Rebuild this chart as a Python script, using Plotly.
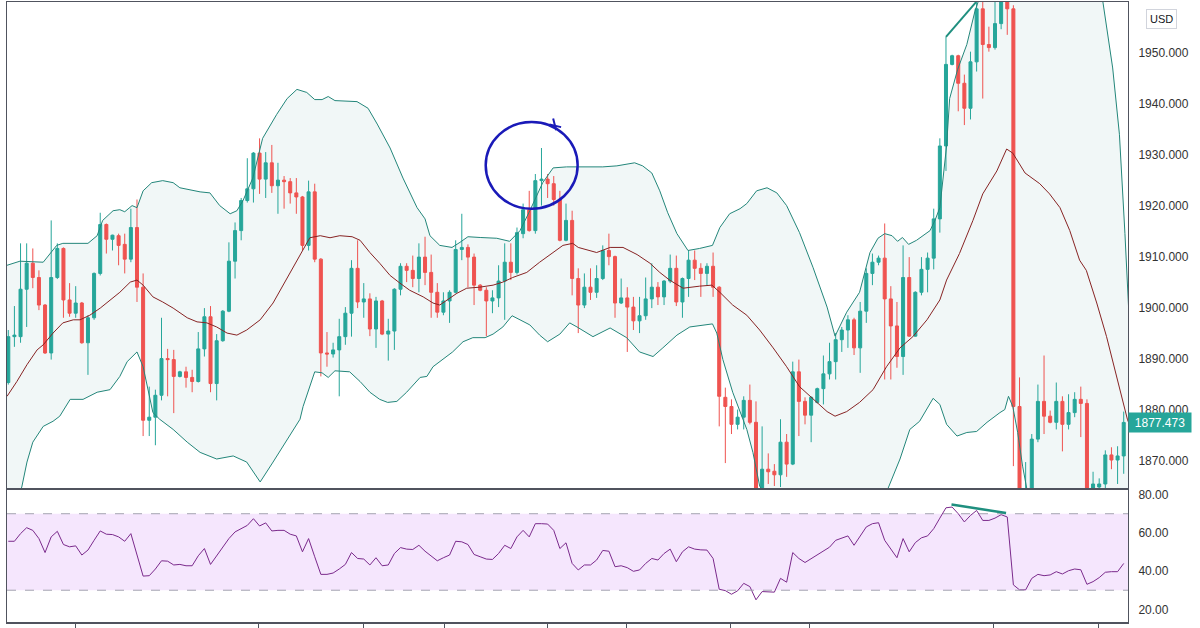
import plotly.graph_objects as go

# ---------------- data ----------------
opens = [1885.3, 1894.3, 1894.3, 1903.6, 1908.7, 1905.9, 1900.5, 1891.1, 1905.9, 1911.6,
         1901.5, 1898.9, 1900.9, 1893.1, 1898.0, 1906.7, 1916.3, 1913.4, 1914.1, 1912.4,
         1909.5, 1915.7, 1904.0, 1877.9, 1878.5, 1882.8, 1890.0, 1889.8, 1886.5, 1887.4,
         1886.3, 1885.5, 1891.9, 1898.2, 1885.1, 1893.5, 1899.3, 1909.1, 1915.1, 1921.0,
         1923.3, 1930.3, 1925.2, 1928.4, 1923.9, 1925.0, 1924.7, 1922.5, 1921.7, 1912.2,
         1922.7, 1909.5, 1891.1, 1890.9, 1891.7, 1894.3, 1898.9, 1907.7, 1901.1, 1901.7,
         1895.8, 1901.3, 1894.8, 1895.4, 1903.6, 1908.1, 1907.3, 1905.7, 1909.9, 1906.9,
         1903.0, 1899.1, 1901.3, 1903.0, 1911.4, 1911.8, 1909.9, 1904.4, 1903.4, 1901.3,
         1901.9, 1905.2, 1908.9, 1906.9, 1914.5, 1919.2, 1915.1, 1924.9, 1925.2, 1924.3,
         1921.2, 1913.2, 1917.1, 1905.7, 1900.5, 1904.0, 1903.0, 1905.7, 1911.2, 1910.0,
         1900.9, 1901.9, 1900.1, 1897.4, 1898.4, 1901.7, 1904.0, 1902.1, 1905.2, 1907.7,
         1901.1, 1905.7, 1909.3, 1907.7, 1906.7, 1908.1, 1904.0, 1882.4, 1880.6, 1877.1,
         1878.5, 1881.8, 1877.5, 1862.5, 1868.3, 1867.9, 1867.2, 1873.6, 1869.3, 1887.4,
         1881.6, 1878.9, 1881.4, 1884.1, 1887.0, 1889.4, 1893.7, 1895.6, 1897.6, 1892.1,
         1899.3, 1906.7, 1908.9, 1909.7, 1901.7, 1896.4, 1890.4, 1905.9, 1894.4, 1903.0,
         1907.5, 1909.7, 1917.4, 1931.7, 1947.7, 1949.4, 1944.0, 1939.1, 1948.2, 1958.6,
         1951.6, 1951.0, 1955.7, 1960.5, 1958.6, 1880.6, 1861.0, 1863.5, 1874.2, 1881.6,
         1878.7, 1877.5, 1881.6, 1877.1, 1879.4, 1882.0, 1881.2, 1862.5, 1864.8, 1865.4,
         1871.1, 1870.1, 1870.9]
highs = [1895.6, 1900.3, 1912.6, 1912.6, 1911.6, 1907.3, 1900.7, 1917.1, 1912.6, 1911.8,
         1904.8, 1904.2, 1901.1, 1898.5, 1906.9, 1918.6, 1916.5, 1914.3, 1914.5, 1914.5,
         1919.4, 1921.2, 1906.7, 1884.5, 1883.9, 1898.0, 1891.9, 1891.7, 1887.6, 1888.4,
         1887.8, 1895.2, 1899.9, 1900.3, 1894.8, 1899.5, 1912.8, 1916.7, 1921.5, 1929.3,
         1930.5, 1933.2, 1930.5, 1931.9, 1928.4, 1925.8, 1925.4, 1925.4, 1921.9, 1924.9,
         1924.3, 1909.7, 1895.2, 1893.1, 1897.8, 1900.1, 1909.3, 1913.2, 1904.8, 1902.8,
         1902.1, 1901.5, 1897.8, 1903.8, 1908.7, 1908.7, 1910.2, 1912.6, 1913.9, 1910.4,
         1904.8, 1903.0, 1903.4, 1913.2, 1918.4, 1912.4, 1910.6, 1904.6, 1904.0, 1903.4,
         1908.3, 1912.6, 1912.6, 1915.7, 1920.4, 1922.9, 1926.2, 1931.3, 1926.2, 1925.8,
         1922.9, 1920.4, 1919.0, 1907.7, 1906.7, 1907.7, 1908.3, 1912.2, 1914.5, 1910.2,
         1905.7, 1904.0, 1902.1, 1902.1, 1905.9, 1908.7, 1905.0, 1905.4, 1910.4, 1910.2,
         1905.9, 1911.2, 1911.2, 1908.7, 1908.7, 1910.8, 1904.2, 1884.3, 1882.0, 1880.0,
         1882.6, 1884.9, 1881.6, 1876.7, 1871.4, 1869.3, 1878.1, 1875.2, 1889.4, 1889.8,
         1882.4, 1882.6, 1884.3, 1890.6, 1893.1, 1895.0, 1896.2, 1898.5, 1898.0, 1901.1,
         1907.7, 1910.6, 1910.2, 1916.5, 1904.2, 1901.1, 1912.2, 1909.9, 1903.2, 1909.9,
         1910.8, 1919.4, 1933.2, 1953.1, 1949.6, 1949.6, 1945.7, 1950.2, 1960.5, 1960.2,
         1955.1, 1960.0, 1962.0, 1961.5, 1959.3, 1886.3, 1869.7, 1875.2, 1884.9, 1890.6,
         1879.8, 1885.3, 1882.6, 1883.0, 1883.4, 1884.5, 1882.0, 1867.8, 1866.5, 1872.0,
         1872.6, 1872.8, 1879.6]
lows = [1884.9, 1892.3, 1893.1, 1896.2, 1903.8, 1899.5, 1890.9, 1889.8, 1905.6, 1898.0,
        1898.2, 1898.0, 1892.9, 1886.8, 1897.6, 1906.3, 1910.6, 1911.2, 1908.3, 1906.7,
        1908.9, 1901.1, 1874.8, 1874.8, 1873.0, 1881.8, 1882.6, 1879.3, 1886.3, 1884.3,
        1883.4, 1885.3, 1890.4, 1883.4, 1881.8, 1893.3, 1899.1, 1905.7, 1913.2, 1920.6,
        1920.6, 1922.3, 1921.5, 1922.5, 1918.4, 1919.4, 1920.4, 1918.4, 1911.2, 1911.2,
        1908.9, 1886.5, 1888.4, 1890.2, 1882.6, 1892.7, 1894.3, 1899.9, 1898.0, 1894.4,
        1892.1, 1894.6, 1889.6, 1891.7, 1902.4, 1905.0, 1904.0, 1903.0, 1904.4, 1898.0,
        1898.0, 1898.5, 1897.0, 1902.8, 1909.3, 1904.0, 1900.5, 1903.2, 1894.4, 1898.9,
        1900.1, 1897.6, 1905.4, 1906.5, 1913.6, 1914.9, 1914.5, 1920.0, 1921.5, 1920.0,
        1913.0, 1913.0, 1902.4, 1895.0, 1899.9, 1901.5, 1901.9, 1905.4, 1908.3, 1898.0,
        1900.7, 1891.3, 1895.6, 1895.0, 1897.6, 1899.9, 1900.5, 1900.5, 1904.8, 1900.3,
        1898.0, 1902.1, 1905.4, 1902.1, 1904.4, 1902.1, 1876.7, 1869.5, 1875.2, 1876.1,
        1876.1, 1877.1, 1859.0, 1861.5, 1865.4, 1865.0, 1864.8, 1866.8, 1869.1, 1874.8,
        1877.1, 1873.6, 1881.2, 1881.0, 1885.9, 1885.9, 1891.3, 1892.1, 1890.7, 1887.2,
        1897.0, 1904.4, 1908.3, 1885.9, 1885.9, 1888.2, 1886.8, 1894.3, 1894.3, 1902.4,
        1903.0, 1907.5, 1914.7, 1926.8, 1947.5, 1938.5, 1935.8, 1936.9, 1946.3, 1941.0,
        1950.2, 1950.6, 1954.6, 1953.5, 1868.9, 1859.0, 1858.5, 1861.0, 1873.6, 1875.2,
        1877.3, 1876.1, 1871.8, 1876.1, 1878.5, 1874.6, 1860.0, 1860.5, 1863.0, 1864.4,
        1868.3, 1865.4, 1867.4]
closes = [1894.3, 1894.6, 1903.6, 1908.7, 1905.9, 1900.5, 1891.1, 1905.9, 1911.6, 1901.5,
          1898.9, 1900.9, 1893.1, 1898.0, 1906.7, 1916.3, 1913.4, 1914.2, 1912.2, 1909.5,
          1915.7, 1904.0, 1877.9, 1878.5, 1882.8, 1890.0, 1889.8, 1886.5, 1887.4, 1886.3,
          1885.5, 1891.9, 1898.2, 1885.1, 1893.5, 1899.3, 1909.1, 1915.1, 1921.0, 1923.3,
          1930.3, 1925.2, 1928.4, 1923.9, 1925.0, 1924.7, 1922.5, 1921.7, 1912.2, 1922.7,
          1909.5, 1891.1, 1890.9, 1891.7, 1894.3, 1898.9, 1907.7, 1901.1, 1901.7, 1895.8,
          1901.3, 1894.8, 1895.4, 1903.6, 1908.1, 1907.3, 1905.7, 1909.9, 1906.9, 1903.0,
          1899.1, 1901.3, 1903.0, 1911.4, 1911.8, 1909.9, 1904.4, 1903.4, 1901.3, 1901.9,
          1905.2, 1908.9, 1906.9, 1914.7, 1919.2, 1915.1, 1924.9, 1925.2, 1924.3, 1921.2,
          1913.2, 1917.1, 1905.7, 1900.5, 1904.0, 1903.0, 1905.7, 1911.2, 1910.0, 1900.9,
          1901.9, 1900.1, 1897.4, 1898.4, 1901.7, 1904.0, 1902.1, 1905.2, 1907.7, 1901.1,
          1905.7, 1909.3, 1907.7, 1906.7, 1908.1, 1904.0, 1882.6, 1880.6, 1877.1, 1878.5,
          1881.8, 1877.5, 1862.0, 1868.3, 1867.8, 1867.2, 1873.6, 1869.3, 1887.4, 1881.6,
          1878.9, 1882.4, 1884.1, 1887.0, 1889.4, 1893.7, 1895.6, 1897.6, 1892.1, 1899.3,
          1906.7, 1908.9, 1909.7, 1901.7, 1896.4, 1890.4, 1905.9, 1894.4, 1903.0, 1907.5,
          1909.7, 1917.4, 1931.7, 1947.7, 1949.4, 1944.0, 1939.1, 1948.2, 1958.6, 1951.6,
          1951.0, 1955.7, 1960.5, 1958.6, 1880.6, 1862.0, 1864.0, 1874.2, 1881.6, 1878.7,
          1877.5, 1881.6, 1877.1, 1879.4, 1882.0, 1881.2, 1862.5, 1865.4, 1865.4, 1871.1,
          1870.1, 1870.9, 1877.473]
bar_index = list(range(len(closes)))

rsi = [55.6, 55.6, 59.6, 62.7, 61.3, 57.0, 49.7, 57.9, 60.8, 53.9,
       52.7, 53.2, 48.4, 51.0, 56.1, 61.0, 59.3, 59.1, 57.9, 55.6,
       59.6, 48.4, 37.4, 37.6, 41.1, 45.4, 45.2, 43.2, 43.5, 42.8,
       42.8, 48.0, 51.8, 43.5, 48.0, 52.2, 57.0, 60.5, 62.4, 63.9,
       67.4, 63.6, 65.2, 61.0, 61.3, 61.3, 59.3, 58.4, 50.1, 57.0,
       47.5, 38.3, 38.3, 39.0, 41.1, 43.5, 49.7, 46.6, 46.3, 43.2,
       47.0, 42.8, 43.2, 49.2, 52.3, 51.5, 51.3, 53.5, 50.4, 48.0,
       45.4, 47.0, 48.4, 55.6, 55.3, 53.9, 48.7, 47.5, 46.3, 46.1,
       49.2, 53.5, 51.8, 57.9, 61.3, 57.9, 64.8, 64.8, 64.6, 61.3,
       51.8, 54.8, 44.0, 40.6, 43.2, 43.2, 45.8, 50.8, 50.4, 42.3,
       42.8, 41.8, 39.9, 40.6, 44.0, 46.6, 45.8, 49.2, 51.5, 44.9,
       50.1, 52.7, 51.5, 51.1, 51.0, 46.6, 30.5, 29.8, 27.9, 29.7,
       33.6, 31.9, 25.0, 29.3, 29.3, 29.0, 36.2, 34.2, 49.7, 46.6,
       44.5, 46.6, 48.4, 50.4, 52.5, 56.1, 57.4, 58.4, 53.5, 58.4,
       63.1, 64.8, 65.3, 56.1, 51.8, 47.0, 57.0, 50.1, 54.9, 57.4,
       58.4, 62.2, 67.7, 73.1, 73.5, 70.0, 65.7, 69.1, 71.7, 66.5,
       66.5, 67.7, 69.5, 68.3, 32.8, 30.2, 30.2, 36.2, 38.3, 37.6,
       38.0, 39.7, 38.5, 40.2, 41.1, 40.7, 33.1, 34.5, 36.6, 39.4,
       39.7, 39.7, 44.0]

bb_upper_idx = [-0.2, 1.9, 5.7, 6.8, 7.9, 8.9, 13.0, 14.5, 15.4, 17.1, 18.2, 19.0, 20.2, 21.0,
                22.0, 23.4, 25.2, 26.9, 28.0, 31.3, 32.9, 34.5, 36.2, 37.3, 38.3, 39.9, 41.5,
                43.8, 45.5, 47.1, 48.7, 50.0, 51.2, 52.2, 53.3, 56.9, 58.7, 60.2, 62.3, 64.4,
                66.7, 68.0, 68.8, 70.4, 72.4, 73.7, 75.0, 77.0, 79.7, 81.8, 83.5, 85.1, 87.2,
                88.9, 91.1, 97.0, 99.3, 102.2, 103.5, 105.0, 106.3, 107.6, 109.1, 110.9, 112.8,
                114.9, 116.1, 117.7, 119.4, 120.5, 122.1, 123.8, 125.4, 127.0, 129.1, 131.3,
                133.6, 134.9, 136.8, 138.9, 140.6, 141.9, 143.0, 144.2, 145.1, 145.9, 146.9,
                148.2, 149.2, 150.4, 151.2, 152.0, 153.1, 153.6, 154.9, 156.4, 157.7, 159,
                161, 163, 166, 170, 174, 177, 178.6, 180.2, 181.3, 182.2, 183]
bb_upper = [1908.3, 1909.1, 1908.9, 1910.6, 1912.2, 1912.6, 1912.6, 1914.1, 1917.1, 1919.0,
            1919.2, 1918.8, 1920.0, 1919.6, 1922.9, 1924.5, 1924.9, 1924.5, 1923.5, 1922.7,
            1922.5, 1920.0, 1918.4, 1919.0, 1921.0, 1925.4, 1933.2, 1937.9, 1941.0, 1942.8,
            1942.2, 1940.8, 1940.8, 1941.4, 1940.6, 1940.4, 1939.1, 1936.0, 1931.3, 1925.4,
            1919.6, 1917.4, 1914.1, 1912.2, 1911.8, 1912.8, 1913.9, 1913.75, 1913.6, 1913.0,
            1915.1, 1919.0, 1924.5, 1927.4, 1927.6, 1927.6, 1927.8, 1928.4, 1927.8, 1926.4,
            1922.9, 1918.6, 1914.5, 1911.2, 1911.6, 1912.2, 1915.7, 1918.4, 1919.4, 1920.4,
            1922.9, 1923.5, 1922.5, 1920.0, 1914.7, 1907.9, 1900.1, 1894.4, 1899.1, 1903.0,
            1910.8, 1913.6, 1914.5, 1914.1, 1913.0, 1913.75, 1912.4, 1913.2, 1914.1, 1915.1,
            1917.1, 1919.6, 1931.7, 1941.0, 1946.7, 1951.6, 1958.0, 1963, 1970, 1978,
            1988, 1990, 1984, 1972, 1960, 1947, 1934, 1914.5, 1895]

bb_mid_idx = [-0.2, 1.4, 3.05, 4.7, 5.7, 7.3, 8.9, 10.6, 11.7, 13.3, 15.0, 16.6, 18.2, 19.9,
              21.0, 22.0, 23.6, 25.2, 26.9, 29.2, 30.8, 32.4, 34.0, 35.7, 37.3, 38.9, 41.1,
              43.2, 45.5, 47.6, 49.2, 50.9, 52.5, 54.1, 56.1, 57.4, 59.0, 60.6, 62.3, 63.9,
              65.5, 67.7, 69.3, 70.4, 71.6, 73.2, 74.8, 76.9, 79.1, 80.7, 82.3, 84.6, 86.7,
              88.9, 90.5, 92.1, 93.0, 96.0, 98.2, 100.3, 102.6, 104.7, 106.3, 107.9, 110.1,
              112.8, 114.8, 116.1, 118.2, 120.5, 122.6, 124.8, 127.0, 129.1, 131.9, 133.6,
              134.9, 136.8, 138.9, 141.1, 143.3, 145.5, 147.6, 149.9, 152.0, 153.1, 155.2,
              157.4, 159.0, 161.3, 162.9, 163.9, 165.9, 168.3, 169.9, 171.6, 173.2, 174.8,
              175.9, 177.6, 179.2, 180.9, 182.6, 183.0]
bb_mid = [1882.6, 1885.5, 1888.8, 1891.7, 1892.7, 1895.0, 1897.0, 1897.6, 1897.6, 1898.5,
          1899.9, 1901.5, 1903.0, 1905.0, 1905.4, 1904.4, 1902.1, 1901.1, 1899.9, 1898.0,
          1897.2, 1897.0, 1896.2, 1895.0, 1894.6, 1895.6, 1897.6, 1900.9, 1905.9, 1910.2,
          1913.7, 1914.1, 1913.7, 1914.1, 1913.9, 1913.2, 1910.8, 1908.7, 1906.3, 1904.8,
          1903.4, 1902.1, 1900.9, 1900.5, 1901.5, 1902.8, 1903.8, 1904.0, 1904.4, 1905.0,
          1905.9, 1906.9, 1908.9, 1910.8, 1912.2, 1912.6, 1911.8, 1910.8, 1911.8, 1911.8,
          1910.4, 1908.7, 1906.9, 1905.4, 1903.8, 1904.2, 1904.4, 1903.0, 1900.5, 1898.5,
          1895.6, 1892.1, 1888.4, 1884.5, 1881.4, 1879.6, 1878.7, 1879.6, 1881.4, 1883.9,
          1888.4, 1892.1, 1894.3, 1897.6, 1901.5, 1905.4, 1910.6, 1917.1, 1922.3, 1926.8,
          1931.1, 1930.3, 1926.4, 1924.3, 1922.3, 1919.6, 1915.1, 1909.3, 1907.3, 1900.9,
          1894.3, 1885.9, 1878.1, 1876.8]

bb_lower_idx = [-0.2, 2.2, 3.05, 4.0, 5.7, 7.3, 8.4, 10.1, 12.2, 14.5, 16.6, 18.2, 19.4, 21.0,
                22.0, 23.6, 24.7, 26.9, 29.2, 31.3, 34.0, 36.7, 38.9, 41.1, 43.2, 45.5, 47.6,
                48.1, 50.0, 51.2, 52.2, 53.3, 55.7, 57.4, 59.0, 60.6, 61.9, 63.4, 65.0, 67.2,
                68.3, 69.3, 70.9, 72.5, 74.2, 75.8, 77.8, 79.1, 80.7, 82.2, 83.5, 85.1, 86.7,
                88.0, 90.0, 91.6, 92.8, 95.4, 98.2, 100.9, 103.0, 105.2, 106.8, 109.1, 111.2,
                114.9, 115.6, 116.6, 118.2, 120.5, 121.5, 122.6, 124.8, 127.0, 129.1, 131.3,
                133.6, 134.9, 136.8, 138.9, 141.1, 143.5, 145.5, 147.1, 148.7, 150.9, 152.0,
                153.1, 154.8, 156.4, 158.0, 159.7, 161.8, 162.6, 163.2, 163.9, 164.7, 165.5,
                166.2, 168, 170, 175, 180, 183]
bb_lower = [1857.0, 1864.8, 1869.7, 1873.6, 1876.7, 1877.7, 1878.7, 1882.0, 1882.0, 1883.4,
            1883.9, 1886.5, 1889.4, 1891.3, 1888.4, 1879.4, 1878.1, 1876.1, 1873.6, 1871.6,
            1870.3, 1870.9, 1869.7, 1865.8, 1869.7, 1874.2, 1878.1, 1880.6, 1887.4, 1887.2,
            1886.3, 1887.6, 1887.4, 1885.5, 1883.4, 1882.0, 1881.4, 1881.6, 1883.4, 1886.3,
            1886.5, 1888.4, 1889.8, 1891.3, 1893.3, 1894.1, 1894.1, 1894.8, 1896.2, 1898.4,
            1897.6, 1896.6, 1894.6, 1893.3, 1894.8, 1897.0, 1896.2, 1894.3, 1896.0, 1894.1,
            1891.3, 1890.4, 1892.1, 1894.6, 1896.2, 1896.8, 1895.0, 1889.8, 1883.4, 1876.1,
            1871.6, 1865.0, 1860.9, 1856.8, 1854.7, 1857.3, 1859.1, 1862.5, 1860.3, 1859.8,
            1855.6, 1864.4, 1870.3, 1876.1, 1877.7, 1882.2, 1881.0, 1877.1, 1874.8, 1875.5,
            1875.7, 1877.5, 1879.4, 1880.0, 1882.6, 1880.6, 1875.5, 1868.9, 1864.4, 1859,
            1856, 1840, 1826, 1845]

price_ticks = [1870, 1880, 1890, 1900, 1910, 1920, 1930, 1940, 1950]
rsi_ticks = [20, 40, 60, 80]
date_tick_idx = [11.0, 40.9, 58.0, 71.1, 87.9, 100.9, 117.9, 130.8, 160.8, 177.9]
last_price = closes[-1]

# hand drawings (index / price coordinates)
circle_box = dict(x0=77.9, x1=92.9, y0=1919.4, y1=1936.4)
circle_tick_a = dict(x0=88.9, y0=1937.1, x1=89.4, y1=1934.8)
circle_tick_b = dict(x0=88.3, y0=1935.9, x1=90.2, y1=1935.4)
price_trend = dict(x0=153.0, y0=1953.1, x1=157.9, y1=1959.9)
rsi_trend = dict(x0=153.9, y0=74.8, x1=162.8, y1=70.4)

# ---------------- styles ----------------
UP = "#26a69a"
DOWN = "#ef5350"
BAND = "#23867a"
BASIS = "#872323"
BAND_FILL = "#f1f7f7"
RSI_COLOR = "#7b2a8c"
RSI_FILL = "#f5e6fd"
FRAME = "#50535e"
TXT = "#333333"
PEN = "#1a1ab8"
TREND = "#1f8f7f"
FONT = "Liberation Sans, Arial, sans-serif"

W, H = 1200, 628
x_left, x_right = 7 / W, 1128 / W
price_dom = [1 - 490 / H, 1.0]
rsi_dom = [1 - 624 / H, 1 - 491 / H]
x_range = [-0.21, 182.7]

fig = go.Figure()

# band lines
fig.add_trace(go.Scatter(x=bb_upper_idx, y=bb_upper, mode="lines",
                         line=dict(color=BAND, width=1), xaxis="x", yaxis="y"))
fig.add_trace(go.Scatter(x=bb_lower_idx, y=bb_lower, mode="lines",
                         line=dict(color=BAND, width=1), xaxis="x", yaxis="y"))
fig.add_trace(go.Scatter(x=bb_mid_idx, y=bb_mid, mode="lines",
                         line=dict(color=BASIS, width=1), xaxis="x", yaxis="y"))

# candles
fig.add_trace(go.Candlestick(
    x=bar_index, open=opens, high=highs, low=lows, close=closes,
    increasing=dict(line=dict(color=UP, width=1), fillcolor=UP),
    decreasing=dict(line=dict(color=DOWN, width=1), fillcolor=DOWN),
    whiskerwidth=0, xaxis="x", yaxis="y"))

# RSI
fig.add_trace(go.Scatter(x=bar_index, y=rsi, mode="lines",
                         line=dict(color=RSI_COLOR, width=1), xaxis="x2", yaxis="y2"))

# band fill polygon drawn as a shape beneath everything
band_pts = list(zip(bb_upper_idx, bb_upper)) + list(zip(bb_lower_idx[::-1], bb_lower[::-1]))
band_path = "M " + " L ".join(f"{px},{py}" for px, py in band_pts) + " Z"

shapes = [
    dict(type="path", xref="x", yref="y", path=band_path, fillcolor=BAND_FILL,
         line=dict(width=0), layer="below"),
    dict(type="rect", xref="x2 domain", yref="y2", x0=0, x1=1, y0=30, y1=70,
         fillcolor=RSI_FILL, line=dict(width=0), layer="below"),
    dict(type="line", xref="x2 domain", yref="y2", x0=0, x1=1, y0=70, y1=70,
         line=dict(color="#a3a3b0", width=1, dash="dash")),
    dict(type="line", xref="x2 domain", yref="y2", x0=0, x1=1, y0=30, y1=30,
         line=dict(color="#a3a3b0", width=1, dash="dash")),
    dict(type="circle", xref="x", yref="y", **circle_box, line=dict(color=PEN, width=2.5)),
    dict(type="line", xref="x", yref="y", **circle_tick_a, line=dict(color=PEN, width=2)),
    dict(type="line", xref="x", yref="y", **circle_tick_b, line=dict(color=PEN, width=2)),
    dict(type="line", xref="x", yref="y", **price_trend, line=dict(color=TREND, width=2)),
    dict(type="line", xref="x2", yref="y2", **rsi_trend, line=dict(color=TREND, width=2.5)),
]

annotations = [
    dict(xref="paper", yref="y", x=1128 / W, y=last_price, xanchor="left", yanchor="middle",
         text=f"{last_price:.3f}", showarrow=False, bgcolor=UP, width=60, height=17,
         font=dict(color="white", size=12, family=FONT), borderpad=1),
    dict(xref="paper", yref="paper", x=1161 / W, y=1 - 17 / H, xanchor="center",
         yanchor="middle", text="USD", showarrow=False, bgcolor="white",
         bordercolor="#d1d4dc", borderwidth=1, borderpad=3,
         font=dict(color="#131722", size=11, family=FONT)),
]

axis_common = dict(showgrid=False, zeroline=False, linecolor=FRAME, linewidth=1,
                   showline=True, mirror=True)

fig.update_layout(
    width=W, height=H, margin=dict(l=0, r=0, t=0, b=0),
    paper_bgcolor="white", plot_bgcolor="white", showlegend=False,
    hovermode=False, font=dict(family=FONT, size=12, color=TXT),
    xaxis=dict(domain=[x_left, x_right], range=x_range, anchor="y",
               showticklabels=False, ticks="", rangeslider=dict(visible=False),
               **axis_common),
    xaxis2=dict(domain=[x_left, x_right], range=x_range, anchor="y2",
                showticklabels=False, ticks="outside", ticklen=6, tickcolor=FRAME,
                tickvals=date_tick_idx, showgrid=False, zeroline=False,
                showline=True, mirror=True, linecolor=FRAME, linewidth=2),
    yaxis=dict(domain=price_dom, range=[1864.44, 1959.94], anchor="x", side="right",
               tickvals=price_ticks, tickformat=".3f", ticks="outside", ticklen=7,
               tickcolor="rgba(0,0,0,0)", tickfont=dict(size=12, color=TXT, family=FONT),
               **axis_common),
    yaxis2=dict(domain=rsi_dom, range=[13.38, 82.47], anchor="x2", side="right",
                tickvals=rsi_ticks, tickformat=".2f", ticks="outside", ticklen=7,
                tickcolor="rgba(0,0,0,0)", tickfont=dict(size=12, color=TXT, family=FONT),
                **axis_common),
    shapes=shapes, annotations=annotations,
)

fig.write_html("out.html", config={"displayModeBar": False})
